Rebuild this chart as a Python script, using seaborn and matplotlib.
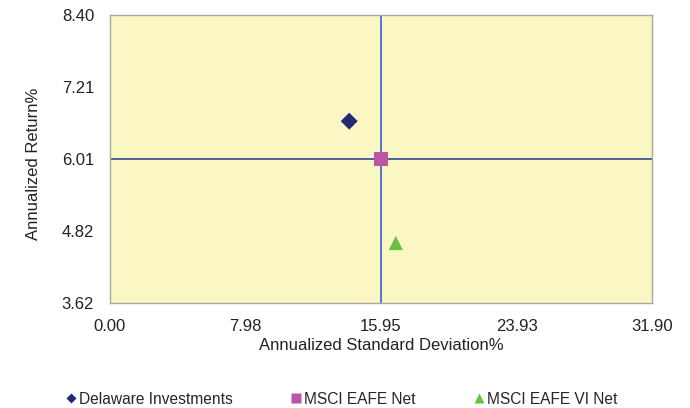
import matplotlib
matplotlib.use("Agg")
import matplotlib.pyplot as plt
import seaborn as sns
import pandas as pd
from matplotlib.lines import Line2D

# Risk / return figures
names = ["Delaware Investments", "MSCI EAFE Net", "MSCI EAFE VI Net"]
std_dev = [14.08, 15.95, 16.82]
returns = [6.64, 6.01, 4.62]

x_ticks = [0.00, 7.98, 15.95, 23.93, 31.90]
y_ticks = [3.62, 4.82, 6.01, 7.21, 8.40]
benchmark_x = 15.95
benchmark_y = 6.01

colors = ["#232A75", "#BC55A6", "#6CBF45"]
markers = ["D", "s", "^"]
sizes = [75, 95, 105]

df = pd.DataFrame({"name": names, "sd": std_dev, "ret": returns})

sns.set_theme(style="white")
plt.rcParams["font.family"] = ["Liberation Sans", "DejaVu Sans"]

fig = plt.figure(figsize=(6.9, 4.08), dpi=100)
ax = fig.add_axes([110 / 690, 1 - 303.3 / 408, 542 / 690, 288.3 / 408])
ax.set_facecolor("#FAF7C4")

ax.axvline(benchmark_x, color="#2452D6", lw=1.1, zorder=1)
ax.axhline(benchmark_y, color="#1F3B8A", lw=1.1, zorder=1)

for i in range(len(df)):
    sns.scatterplot(data=df.iloc[[i]], x="sd", y="ret", ax=ax,
                    marker=markers[i], color=colors[i], s=sizes[i],
                    edgecolor="none", linewidth=0, zorder=3, legend=False)

ax.set_xlim(x_ticks[0], x_ticks[-1])
ax.set_ylim(y_ticks[0], y_ticks[-1])
ax.set_xticks(x_ticks)
ax.set_xticklabels([f"{v:.2f}" for v in x_ticks])
ax.set_yticks(y_ticks)
ax.set_yticklabels([f"{v:.2f}" for v in y_ticks])
ax.tick_params(axis="both", length=0, labelsize=12, colors="#222222")
ax.tick_params(axis="x", pad=11)
ax.tick_params(axis="y", pad=11.5)

for side in ["left", "top", "right", "bottom"]:
    ax.spines[side].set_color("#A8A8A0")
    ax.spines[side].set_linewidth(1.0)

ax.set_xlabel("Annualized Standard Deviation%", fontsize=12, color="#222222", labelpad=3)
ax.set_ylabel("Annualized Return%", fontsize=12, color="#222222", labelpad=15)
ax.yaxis.label.set_y(0.485)

handles = [Line2D([0], [0], marker=m, color="none", markerfacecolor=c,
                  markeredgecolor="none", markersize=ms)
           for m, c, ms in zip(markers, colors, [5.5, 6.5, 7])]
fig.legend(handles, names, loc="center left", bbox_to_anchor=(66.5 / 690, 1 - 399 / 408),
           ncol=3, frameon=False, fontsize=11.2, handlelength=0.6,
           handletextpad=0.23, columnspacing=3.75, borderaxespad=0, borderpad=0)

fig.savefig("out.png", dpi=100)
